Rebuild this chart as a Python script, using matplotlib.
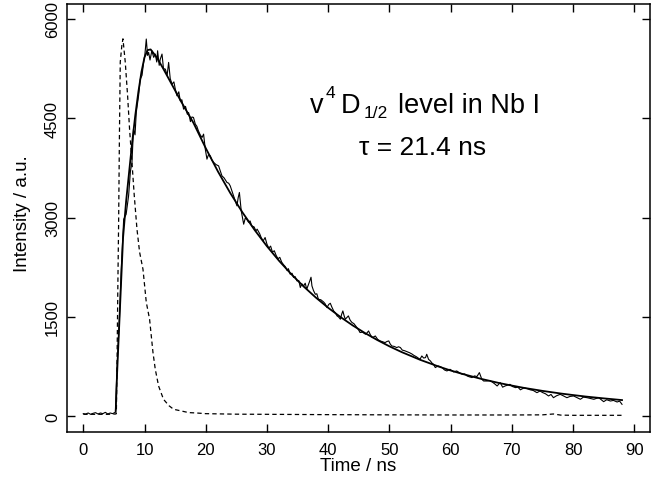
import matplotlib
matplotlib.use("Agg")
import matplotlib.pyplot as plt

plt.rcParams['font.family'] = ['Liberation Sans', 'DejaVu Sans']

# ---- measured decay (noisy) ----
t_meas = [0.0, 0.4, 0.8, 1.2, 1.6, 2.0, 2.4, 2.8, 3.2, 3.6, 4.0, 4.4, 4.8, 5.1, 5.25,
          5.5, 5.9, 6.2, 6.6, 7.0, 7.4, 7.7, 7.95, 8.2, 8.45, 8.66, 9.03, 9.31, 9.6, 9.85,
          10.05, 10.29, 10.5, 10.67, 10.9, 11.2, 11.5, 11.76, 12.0, 12.14, 12.4, 12.58,
          12.86, 13.1, 13.4, 13.7, 13.94, 14.2, 14.5, 14.8, 15.03, 15.3, 15.6, 15.84,
          16.1, 16.38, 16.7, 17.0, 17.2, 17.5, 17.75, 18.0, 18.3, 18.55, 18.8, 19.1, 19.4,
          19.65, 19.93, 20.2, 20.45, 20.74, 21.0, 21.3, 21.7, 22.1, 22.4, 22.65, 23.0,
          23.47, 23.75, 24.0, 24.3, 24.55, 24.8, 25.1, 25.3, 25.5, 25.8, 26.0, 26.2,
          26.45, 26.7, 27.0, 27.25, 27.5, 27.9, 28.2, 28.4, 28.8, 29.1, 29.4, 29.7, 30.0,
          30.3, 30.6, 30.9, 31.2, 31.5, 31.8, 32.1, 32.4, 32.7, 33.0, 33.3, 33.5, 33.8,
          34.1, 34.35, 34.6, 34.9, 35.2, 35.45, 35.7, 36.0, 36.25, 36.5, 36.75, 37.0,
          37.2, 37.35, 37.6, 37.9, 38.15, 38.4, 38.8, 39.25, 39.5, 39.8, 40.1, 40.35,
          40.6, 40.9, 41.2, 41.45, 41.7, 42.0, 42.2, 42.4, 42.6, 42.8, 43.05, 43.3, 43.6,
          43.9, 44.2, 44.45, 44.7, 45.0, 45.2, 45.6, 46.1, 46.35, 46.6, 46.9, 47.2,
          47.45, 47.7, 48.1, 48.5, 48.9, 49.3, 49.6, 49.9, 50.15, 50.4, 50.8, 51.2, 51.5,
          51.8, 52.1, 52.5, 52.9, 53.3, 53.7, 54.0, 54.4, 54.7, 55.0, 55.3, 55.6, 55.9,
          56.1, 56.4, 56.7, 57.0, 57.2, 57.5, 57.75, 58.0, 58.3, 58.6, 59.0, 59.4, 59.9,
          60.2, 60.5, 61.0, 61.4, 61.9, 62.3, 62.7, 63.1, 63.5, 63.9, 64.3, 64.7, 65.1,
          65.4, 65.9, 66.4, 66.8, 67.2, 67.6, 68.1, 68.5, 68.9, 69.3, 69.7, 70.1, 70.6,
          71.0, 71.4, 72.0, 72.5, 73.0, 73.5, 74.1, 74.6, 75.0, 75.5, 76.0, 76.4, 76.8,
          77.3, 77.9, 78.4, 79.0, 79.5, 80.1, 80.6, 81.2, 81.7, 82.3, 82.8, 83.4, 83.8,
          84.2, 84.6, 85.0, 85.5, 86.1, 86.6, 87.2, 87.6, 88.0]
i_meas = [40, 35, 50, 30, 45, 55, 35, 50, 40, 60, 35, 50, 40, 55, 60,
          710, 1466, 2221, 2977, 3050, 3329, 3700, 3833, 4337, 4250, 4593, 4840, 5092, 5150, 5344,
          5450, 5697, 5450, 5496, 5380, 5520, 5420, 5470, 5350, 5520, 5300, 5394,
          5470, 5250, 5243, 5150, 5344, 5100, 5016, 5050, 4941, 4840, 4900, 4764,
          4780, 4638, 4680, 4560, 4588, 4450, 4520, 4513, 4412, 4380, 4311, 4250, 4211,
          4261, 4034, 3883, 3950, 3933, 3870, 3833, 3800, 3782, 3700, 3631, 3600,
          3531, 3520, 3480, 3400, 3329, 3260, 3178, 3300, 3380, 3102, 3000, 2901,
          2990, 2977, 2930, 2950, 2876, 2860, 2800, 2826, 2760, 2690, 2650, 2700, 2600,
          2540, 2570, 2480, 2500, 2430, 2380, 2400, 2330, 2290, 2260, 2200, 2230, 2146,
          2160, 2096, 2110, 2045, 2050, 1945, 2000, 1969, 2010, 1919, 1980, 2045,
          2100, 1969, 1900, 1843, 1850, 1768, 1760, 1727, 1700, 1642, 1690, 1707,
          1650, 1591, 1560, 1516, 1500, 1466, 1540, 1591, 1520, 1466, 1490, 1516, 1450,
          1416, 1400, 1370, 1340, 1300, 1265, 1270, 1239, 1260, 1289, 1230, 1189,
          1200, 1213, 1160, 1138, 1125, 1113, 1130, 1138, 1090, 1062, 1055, 1038, 1050,
          1038, 1000, 990, 975, 960, 940, 920, 900, 880, 861, 911, 880, 886,
          937, 860, 836, 800, 786, 736, 750, 760, 750, 736, 700, 685, 710,
          690, 670, 685, 660, 635, 640, 609, 595, 585, 610, 600, 660, 559,
          533, 533, 540, 518, 490, 458, 509, 440, 458, 470, 483, 450, 433,
          440, 400, 430, 418, 400, 390, 357, 382, 360, 340, 307, 330, 281,
          310, 332, 310, 281, 300, 307, 285, 257, 290, 281, 270, 257, 270,
          281, 250, 221, 250, 231, 240, 216, 230, 181]

# ---- fitted curve (tau = 21.4 ns) ----
t_fit = [5.3, 5.5, 6.0, 6.5, 7.0, 7.5, 8.0, 8.5, 9.0, 9.5, 10.0, 10.5, 11.0, 12.0, 13.0,
         14.0, 15.0, 16.0, 17.0, 18.0, 19.0, 20.0, 22.0, 24.0, 26.0, 28.0, 30.0, 32.0,
         34.0, 36.0, 38.0, 40.0, 42.0, 44.0, 46.0, 48.0, 50.0, 52.0, 55.0, 58.0, 60.0,
         62.0, 65.0, 68.0, 70.0, 72.0, 75.0, 78.0, 80.0, 82.0, 85.0, 88.0]
i_fit = [80, 600, 1650, 2700, 3250, 3700, 4150, 4550, 4900, 5200, 5420, 5530, 5540, 5420, 5260,
         5090, 4920, 4750, 4590, 4430, 4240, 4050, 3696, 3373, 3079, 2812, 2568, 2346,
         2144, 1960, 1792, 1639, 1500, 1373, 1258, 1153, 1057, 970, 854, 753, 692,
         638, 565, 501, 464, 429, 384, 344, 321, 299, 271, 245]

# ---- excitation pulse (dashed) ----
t_pulse = [0.0, 2.0, 4.0, 5.3, 5.4, 5.5, 5.65, 5.77, 5.9, 6.04, 6.3, 6.48, 6.86, 7.24, 7.56,
           7.95, 8.33, 8.77, 9.2, 9.75, 10.29, 10.83, 11.38, 11.76, 12.3, 13.1, 14.0,
           14.75, 15.8, 17.2, 18.5, 20.0, 25.0, 30.0, 40.0, 50.0, 60.0, 70.0, 75.0,
           76.8, 78.0, 80.0, 88.0]
i_pulse = [30, 30, 30, 35, 40, 700, 2000, 2900, 4200, 5350, 5600, 5700, 5344, 4840, 4337,
           3837, 3329, 2826, 2478, 2221, 1722, 1466, 967, 710, 458, 257, 160,
           106, 85, 56, 50, 40, 32, 30, 25, 22, 20, 20, 22,
           35, 18, 15, 15]

x_ticks = [0, 10, 20, 30, 40, 50, 60, 70, 80, 90]
y_ticks = [0, 1500, 3000, 4500, 6000]

fig = plt.figure(figsize=(6.65, 4.85), dpi=100)
ax = fig.add_axes([67/665, 1 - 433/485, (649.5 - 67)/665, (433 - 5)/485])

ax.plot(t_pulse, i_pulse, color='black', lw=0.9, linestyle=(0, (3.5, 2.5)))
ax.plot(t_fit, i_fit, color='black', lw=1.3)
ax.plot(t_meas, i_meas, color='black', lw=0.8)

ax.set_xlim(-2.66, 92.49)
ax.set_ylim(-237, 6226)
ax.set_xticks(x_ticks)
ax.set_yticks(y_ticks)
ax.tick_params(direction='in', length=6, width=1.0, labelsize=12,
               top=True, right=True)
ax.tick_params(axis='x', pad=7)
ax.tick_params(axis='y', pad=5)
for lab in ax.get_yticklabels():
    lab.set_rotation(90)
    lab.set_va('center')
for sp in ax.spines.values():
    sp.set_linewidth(1.1)

fig.text(358/665, 1 - 467/485, 'Time / ns', ha='center', va='center', fontsize=13.5)
fig.text(23/665, 1 - 214/485, 'Intensity / a.u.', ha='center', va='center',
         rotation=90, fontsize=13.5)

H = 485
ax.text(310, H - 113, 'v', transform=None, fontsize=19.5, ha='left', va='baseline')
ax.text(326, H - 98, '4', transform=None, fontsize=12.5, ha='left', va='baseline')
ax.text(341, H - 113, 'D', transform=None, fontsize=19.5, ha='left', va='baseline')
ax.text(364, H - 118, '1/2', transform=None, fontsize=12.5, ha='left', va='baseline')
ax.text(398, H - 113, 'level in Nb I', transform=None, fontsize=19.5,
        ha='left', va='baseline')
ax.text(359, H - 155, '\u03c4 = 21.4 ns', transform=None, fontsize=19,
        ha='left', va='baseline')

fig.savefig('out.png', dpi=100)
